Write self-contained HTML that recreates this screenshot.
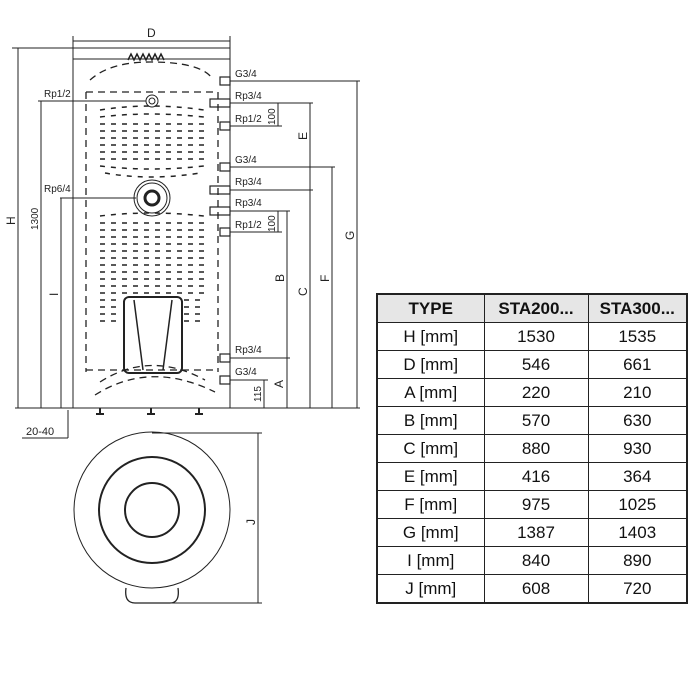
<!DOCTYPE html>
<html><head><meta charset="utf-8"><style>
html,body{margin:0;padding:0;background:#fff;}
svg{display:block;font-family:"Liberation Sans",sans-serif;}
table{position:absolute;left:376px;top:293px;border-collapse:collapse;font-family:"Liberation Sans Narrow","Liberation Sans",sans-serif;font-size:17px;border:2px solid #222;}
td{border:1px solid #222;height:27px;padding:0;text-align:center;color:#111;}
tr.h td{background:#e6e6e6;font-weight:bold;}
</style></head><body>
<div style="position:relative;width:700px;height:700px;">
<svg width="700" height="700" viewBox="0 0 700 700">
<g stroke="#222" fill="none" stroke-width="1">
<rect x="73" y="48" width="157" height="360"/>
<line x1="73" y1="59" x2="230" y2="59"/>
<path d="M128 60 l3-6 3 6 3-6 3 6 3-6 3 6 3-6 3 6 3-6 3 6 3-6 3 6" stroke-width="1.5"/>
<g stroke-dasharray="7,5" stroke-width="1.3">
<line x1="86" y1="92" x2="218" y2="92"/>
<line x1="86" y1="92" x2="86" y2="372"/>
<line x1="218" y1="92" x2="218" y2="372"/>
<line x1="86" y1="370" x2="218" y2="370"/>
<path d="M90 80 Q110 62 150 62 Q200 62 212 78"/>
<path d="M95 395 Q150 360 215 392"/>
<path d="M100 382 Q150 350 205 380"/>
</g>
<g stroke-dasharray="5,6" stroke-width="1.5">
<path d="M100 110 Q150 102 204 110"/><path d="M100 117 Q150 111 204 117"/>
<path d="M100 124 H204"/><path d="M100 131 H204"/><path d="M100 138 H204"/>
<path d="M100 145 H204"/><path d="M100 152 H204"/><path d="M100 159 H204"/>
<path d="M100 166 Q150 172 204 166"/><path d="M105 173 Q150 181 200 173"/>
<path d="M100 216 Q150 210 204 216"/><path d="M100 223 H204"/><path d="M100 230 H204"/>
<path d="M100 237 H204"/><path d="M100 244 H204"/><path d="M100 251 H204"/>
<path d="M100 258 H204"/><path d="M100 265 H204"/><path d="M100 272 H204"/>
<path d="M100 279 H204"/><path d="M100 286 H204"/><path d="M100 293 H204"/>
<path d="M100 300 H122"/><path d="M184 300 H204"/><path d="M100 307 H122"/><path d="M184 307 H204"/>
<path d="M100 314 H122"/><path d="M184 314 H204"/><path d="M100 321 H122"/><path d="M184 321 H204"/>
</g>
<rect x="124" y="297" width="58" height="76" rx="5" stroke-width="2"/>
<path d="M134 300 L143 370 M172 300 L163 370" stroke-width="1.5"/>
<circle cx="152" cy="101" r="6"/><circle cx="152" cy="101" r="3"/>
<circle cx="152" cy="198" r="18"/><circle cx="152" cy="198" r="15"/><circle cx="152" cy="198" r="7" stroke-width="3"/>
<g stroke-width="1.2">
<rect x="220" y="77" width="10" height="8"/><rect x="210" y="99" width="20" height="8"/><rect x="220" y="122" width="10" height="8"/>
<rect x="220" y="163" width="10" height="8"/><rect x="210" y="186" width="20" height="8"/><rect x="210" y="207" width="20" height="8"/>
<rect x="220" y="228" width="10" height="8"/><rect x="220" y="354" width="10" height="8"/><rect x="220" y="376" width="10" height="8"/>
</g>
<path d="M100 408 v6 M96 414 h8 M151 408 v6 M147 414 h8 M199 408 v6 M195 414 h8" stroke-width="2"/>
<line x1="15" y1="408" x2="360" y2="408"/>
<line x1="73" y1="41" x2="230" y2="41"/>
<line x1="73" y1="36" x2="73" y2="48"/><line x1="230" y1="36" x2="230" y2="48"/>
<line x1="12" y1="48" x2="73" y2="48"/>
<line x1="18" y1="48" x2="18" y2="408"/>
<line x1="38" y1="101" x2="146" y2="101"/><line x1="41" y1="101" x2="41" y2="408"/>
<line x1="60" y1="198" x2="136" y2="198"/><line x1="61" y1="198" x2="61" y2="408"/>
<line x1="230" y1="81" x2="360" y2="81"/><line x1="357" y1="81" x2="357" y2="408"/>
<line x1="230" y1="103" x2="313" y2="103"/><line x1="230" y1="126" x2="282" y2="126"/>
<line x1="278" y1="103" x2="278" y2="126"/>
<line x1="230" y1="167" x2="335" y2="167"/><line x1="332" y1="167" x2="332" y2="408"/>
<line x1="230" y1="190" x2="313" y2="190"/><line x1="310" y1="103" x2="310" y2="408"/>
<line x1="230" y1="211" x2="290" y2="211"/><line x1="230" y1="232" x2="282" y2="232"/>
<line x1="278" y1="211" x2="278" y2="232"/><line x1="287" y1="211" x2="287" y2="408"/>
<line x1="230" y1="358" x2="290" y2="358"/>
<line x1="230" y1="380" x2="268" y2="380"/><line x1="264" y1="380" x2="264" y2="408"/>
<line x1="22" y1="438" x2="68" y2="438"/><line x1="68" y1="410" x2="68" y2="438"/>
<circle cx="152" cy="510" r="78"/>
<circle cx="152" cy="510" r="53" stroke-width="2"/>
<circle cx="152" cy="510" r="27" stroke-width="2"/>
<path d="M126 588 Q124 603 135 603 H170 Q180 603 178 588" stroke-width="1.3"/>
<line x1="152" y1="433" x2="262" y2="433"/><line x1="170" y1="603" x2="262" y2="603"/>
<line x1="258" y1="433" x2="258" y2="603"/>
</g>
<g fill="#222" font-size="10">
<text x="147" y="37" font-size="12">D</text>
<text x="44" y="97">Rp1/2</text><text x="44" y="192">Rp6/4</text>
<text x="235" y="77">G3/4</text><text x="235" y="99">Rp3/4</text><text x="235" y="122">Rp1/2</text>
<text x="235" y="163">G3/4</text><text x="235" y="185">Rp3/4</text><text x="235" y="206">Rp3/4</text>
<text x="235" y="228">Rp1/2</text><text x="235" y="353">Rp3/4</text><text x="235" y="375">G3/4</text>
<text x="26" y="435" font-size="11">20-40</text>
<text transform="translate(15,225) rotate(-90)" font-size="12">H</text>
<text transform="translate(38,230) rotate(-90)">1300</text>
<text transform="translate(58,296) rotate(-90)" font-size="12">I</text>
<text transform="translate(275,125) rotate(-90)">100</text>
<text transform="translate(275,232) rotate(-90)">100</text>
<text transform="translate(261,402) rotate(-90)">115</text>
<text transform="translate(283,388) rotate(-90)" font-size="12">A</text>
<text transform="translate(284,282) rotate(-90)" font-size="12">B</text>
<text transform="translate(307,296) rotate(-90)" font-size="12">C</text>
<text transform="translate(307,140) rotate(-90)" font-size="12">E</text>
<text transform="translate(329,282) rotate(-90)" font-size="12">F</text>
<text transform="translate(354,240) rotate(-90)" font-size="12">G</text>
<text transform="translate(255,525) rotate(-90)" font-size="12">J</text>
</g>
</svg>
<table>
<colgroup><col style="width:107px"><col style="width:104px"><col style="width:99px"></colgroup>
<tr class="h"><td>TYPE</td><td>STA200...</td><td>STA300...</td></tr>
<tr><td>H [mm]</td><td>1530</td><td>1535</td></tr>
<tr><td>D [mm]</td><td>546</td><td>661</td></tr>
<tr><td>A [mm]</td><td>220</td><td>210</td></tr>
<tr><td>B [mm]</td><td>570</td><td>630</td></tr>
<tr><td>C [mm]</td><td>880</td><td>930</td></tr>
<tr><td>E [mm]</td><td>416</td><td>364</td></tr>
<tr><td>F [mm]</td><td>975</td><td>1025</td></tr>
<tr><td>G [mm]</td><td>1387</td><td>1403</td></tr>
<tr><td>I [mm]</td><td>840</td><td>890</td></tr>
<tr><td>J [mm]</td><td>608</td><td>720</td></tr>
</table>
</div>
</body></html>
